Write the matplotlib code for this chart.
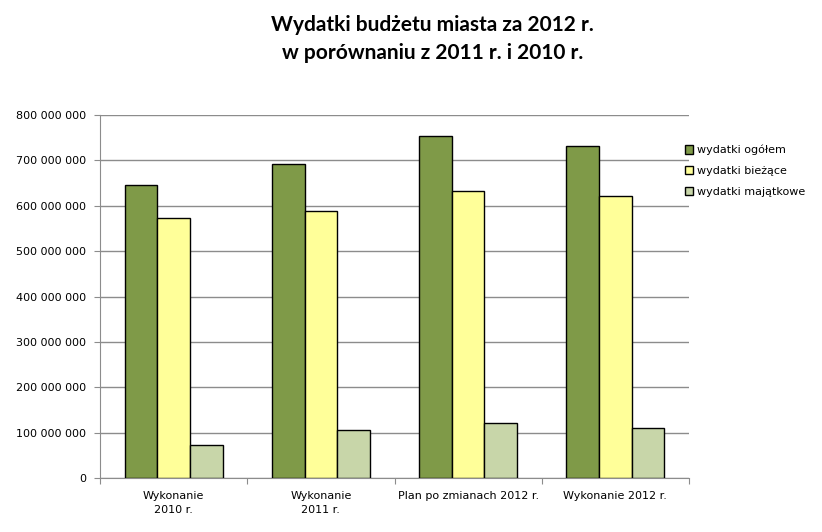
import matplotlib.pyplot as plt
import numpy as np

# Category labels and series (PLN)
categories = ['Wykonanie\n2010 r.', 'Wykonanie\n2011 r.', 'Plan po zmianach 2012 r.', 'Wykonanie 2012 r.']
series_names = ['wydatki ogółem', 'wydatki bieżące', 'wydatki majątkowe']
ogolem = [645_000_000, 692_000_000, 754_000_000, 732_000_000]
biezace = [574_000_000, 588_000_000, 633_000_000, 622_000_000]
majatkowe = [72_000_000, 105_000_000, 121_000_000, 110_000_000]
yticks = [0, 100_000_000, 200_000_000, 300_000_000, 400_000_000,
          500_000_000, 600_000_000, 700_000_000, 800_000_000]

colors = ['#7F9A48', '#FFFF99', '#C8D6A9']

fig = plt.figure(figsize=(8.22, 5.32), dpi=100)
ax = fig.add_axes([0.1217, 0.1015, 0.7165, 0.6823])

x = np.arange(len(categories))
w = 1 / 4.5
for i, (vals, name) in enumerate(zip([ogolem, biezace, majatkowe], series_names)):
    ax.bar(x + (i - 1) * w, vals, width=w, color=colors[i], edgecolor='black',
           linewidth=1, label=name, zorder=3)

ax.set_xlim(-0.5, len(categories) - 0.5)
ax.set_ylim(0, 800_000_000)
ax.set_yticks(yticks)
ax.set_yticklabels([f'{v:,}'.replace(',', ' ') for v in yticks], fontsize=8)
ax.yaxis.grid(True, color='#8C8C8C', linewidth=1, zorder=0)

# category ticks at boundaries, labels centred
ax.set_xticks(np.arange(len(categories) + 1) - 0.5)
ax.set_xticklabels([])
ax.set_xticks(x, minor=True)
ax.set_xticklabels(categories, minor=True, fontsize=8, linespacing=1.6)
ax.tick_params(axis='x', which='minor', length=0, pad=9)
ax.tick_params(axis='x', which='major', length=4, color='#8C8C8C')
ax.tick_params(axis='y', length=4, color='#8C8C8C', pad=6)

for s in ['top', 'right']:
    ax.spines[s].set_visible(False)
for s in ['left', 'bottom']:
    ax.spines[s].set_color('#8C8C8C')

ax.legend(loc='upper left', bbox_to_anchor=(0.985, 0.93), frameon=False,
          fontsize=8, handlelength=0.8, handleheight=0.8, handletextpad=0.3,
          labelspacing=0.95, borderaxespad=0)

fig.text(0.526, 0.972, 'Wydatki budżetu miasta za 2012 r.\nw porównaniu z 2011 r. i 2010 r.',
         ha='center', va='top', fontsize=15, fontweight='bold',
         family=['Lato', 'DejaVu Sans'], linespacing=1.5)

fig.savefig('out.png', dpi=100)
